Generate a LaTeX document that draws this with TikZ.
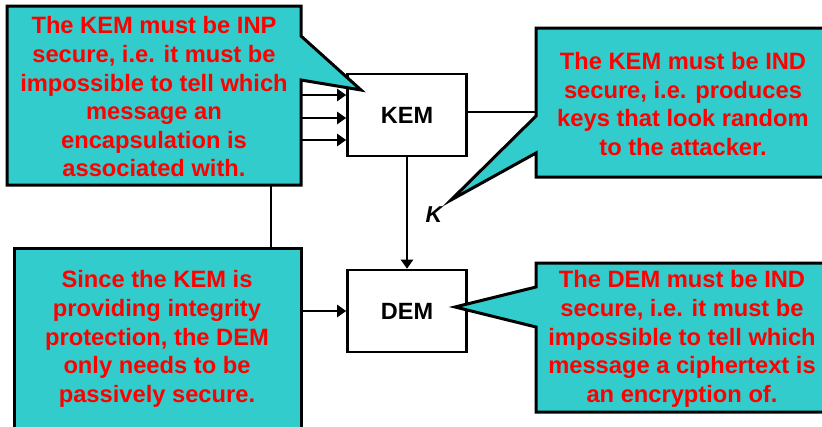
\documentclass[tikz,border=0pt]{standalone}
\usepackage{fontspec}
\setmainfont{Liberation Sans}
\usetikzlibrary{arrows.meta}
\definecolor{calloutteal}{RGB}{51,204,204}

\tikzset{
  blockbox/.style={draw, line width=2.6pt, fill=white, minimum width=119pt,
    minimum height=82pt, font=\bfseries\fontsize{23.5}{28}\selectfont},
  calloutshape/.style={draw, line width=3pt, fill=calloutteal, line join=miter},
  callouttext/.style={align=center, text=red, inner sep=0pt,
    font=\bfseries\fontsize{23.7}{28.6}\selectfont},
  wire/.style={line width=2.4pt},
  arrowwire/.style={wire, -{Triangle[length=9pt,width=12pt]}}
}

\begin{document}
\begin{tikzpicture}[x=1pt, y=-1pt]
    \useasboundingbox (0,0) rectangle (822,426);

    % the two blocks
    \node[blockbox] (kem) at (407,115) {KEM};
    \node[blockbox] (dem) at (407,311) {DEM};

    % wires (partly hidden behind the callouts)
    \foreach \y [count=\i] in {95,118,140} {
      \coordinate (in\i) at (280,\y);
      \draw[arrowwire] (in\i) -- (in\i -| kem.west);
    }
    \coordinate (split) at (271,140);
    \draw[arrowwire] (split) |- (dem.west);
    \draw[arrowwire] (kem) -- (dem);
    \coordinate (keyout) at (545,112);
    \draw[wire] (kem.east |- keyout) -- (keyout);
    \node[font=\bfseries\itshape\fontsize{23}{28}\selectfont] (key) at (434,215) {K};

    % callouts
    \draw[calloutshape] (7,6) -- (301,6) -- (301,36) -- (361,90) -- (301,80)
      -- (301,185) -- (7,185) -- cycle;
    \draw[calloutshape] (536,28) -- (840,28) -- (840,177) -- (536,177)
      -- (536,153) -- (451,200) -- (536,116) -- cycle;
    \draw[calloutshape] (14,248) rectangle (301,440);
    \draw[calloutshape] (536,263) -- (840,263) -- (840,412) -- (536,412)
      -- (536,327) -- (455,307) -- (536,287) -- cycle;

    \node[callouttext] (inpnote) at (154,97)
      {The KEM must be INP\\secure, i.e. it must be\\impossible to tell which\\message an\\encapsulation is\\associated with.};
    \node[callouttext] (indnote) at (683,104)
      {The KEM must be IND\\secure, i.e. produces\\keys that look random\\to the attacker.};
    \node[callouttext] (passnote) at (157,339)
      {Since the KEM is\\providing integrity\\protection, the DEM\\only needs to be\\passively secure.};
    \node[callouttext] (demnote) at (682,339)
      {The DEM must be IND\\secure, i.e. it must be\\impossible to tell which\\message a ciphertext is\\an encryption of.};
\end{tikzpicture}
\end{document}
